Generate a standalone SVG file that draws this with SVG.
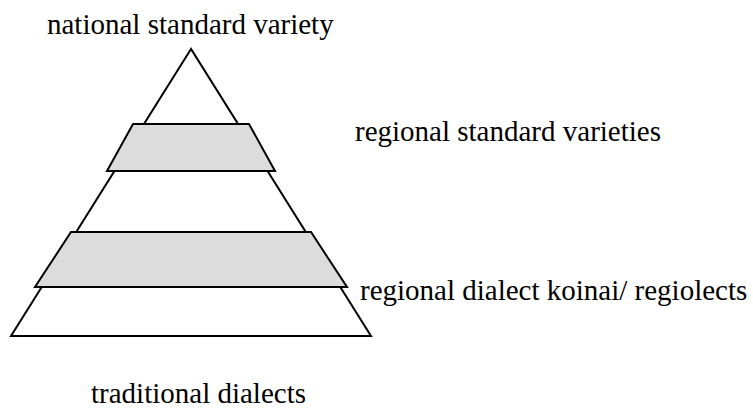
<svg xmlns="http://www.w3.org/2000/svg" width="753" height="410" viewBox="0 0 753 410">
  <style>
    .shape { stroke: #000; stroke-width: 2; stroke-linejoin: miter; }
    .tri { fill: #fff; }
    .band { fill: #dcdcdc; }
    .lbl { font-size: 29px; fill: #000; }
  </style>
  <rect width="753" height="410" fill="#fff"/>

  <!-- pyramid body -->
  <g id="pyramid">
    <polygon class="shape tri" points="191,49 11,336 371,336"/>
  </g>

  <!-- shaded layers drawn over the pyramid -->
  <g id="band-regional-standard">
    <polygon class="shape band" points="133,124 249,124 275,171 107,171"/>
  </g>
  <g id="band-regional-koinai">
    <polygon class="shape band" points="71,232 311,232 347,287 35,287"/>
  </g>

  <!-- labels -->
  <g font-family="Liberation Serif, Tinos, DejaVu Serif, serif">
    <g id="label-national">
      <text class="lbl" x="47" y="34">national standard variety</text>
    </g>
    <g id="label-regional-standard">
      <text class="lbl" x="355" y="141">regional standard varieties</text>
    </g>
    <g id="label-regional-koinai">
      <text class="lbl" x="360" y="300">regional dialect koinai/ regiolects</text>
    </g>
    <g id="label-traditional">
      <text class="lbl" x="91" y="403">traditional dialects</text>
    </g>
  </g>

  <g id="connectors"></g>
</svg>
